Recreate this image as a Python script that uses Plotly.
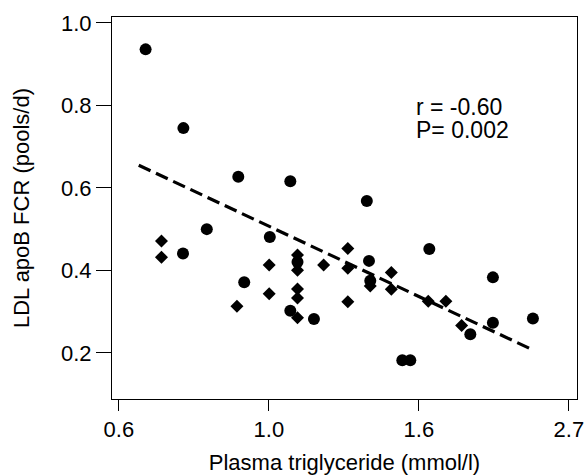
import numpy as np
import plotly.graph_objects as go

# Circles (group 1): plasma TG (mmol/l) vs LDL apoB FCR (pools/d)
circle_tg = [0.663, 0.752, 0.903, 1.074, 0.813, 0.751, 1.003, 0.921, 1.074, 1.162,
             1.386, 1.396, 1.402, 1.707, 1.560, 1.602, 1.957, 2.110, 2.110, 2.411, 1.100]
circle_fcr = [0.936, 0.745, 0.627, 0.616, 0.500, 0.441, 0.481, 0.371, 0.302, 0.282,
              0.568, 0.423, 0.375, 0.452, 0.182, 0.182, 0.245, 0.383, 0.273, 0.283, 0.420]

# Diamonds (group 2)
diamond_tg = [0.699, 0.699, 1.001, 1.001, 0.899, 1.100, 1.100, 1.100, 1.100, 1.100,
              1.200, 1.301, 1.301, 1.301, 1.504, 1.504, 1.402, 1.701, 1.804, 1.901]
diamond_fcr = [0.471, 0.432, 0.413, 0.343, 0.313, 0.437, 0.400, 0.355, 0.333, 0.285,
               0.413, 0.453, 0.405, 0.324, 0.395, 0.354, 0.362, 0.325, 0.325, 0.266]

# Regression line end points
fit_tg = [0.648, 2.411]
fit_fcr = [0.655, 0.207]

# Axis ticks (natural-log spaced)
x_tick_vals = list(np.exp([-0.5, 0.0, 0.5, 1.0]))
x_tick_text = ["0.6", "1.0", "1.6", "2.7"]
y_tick_vals = [0.2, 0.4, 0.6, 0.8, 1.0]
y_tick_text = ["0.2", "0.4", "0.6", "0.8", "1.0"]

FONT = "Liberation Sans, Arial, sans-serif"

fig = go.Figure()
fig.add_trace(go.Scatter(x=fit_tg, y=fit_fcr, mode="lines",
                         line=dict(color="black", width=3.2, dash="13px,6px"),
                         showlegend=False, hoverinfo="skip"))
fig.add_trace(go.Scatter(x=circle_tg, y=circle_fcr, mode="markers",
                         marker=dict(symbol="circle", size=12, color="black",
                                     line=dict(width=0)),
                         showlegend=False))
fig.add_trace(go.Scatter(x=diamond_tg, y=diamond_fcr, mode="markers",
                         marker=dict(symbol="diamond", size=10, color="black",
                                     line=dict(width=0)),
                         showlegend=False))

xr = [np.log10(np.exp(-0.523)), np.log10(np.exp(1.027))]

fig.update_layout(
    width=586, height=475,
    margin=dict(l=112, r=9, t=17, b=76),
    paper_bgcolor="white", plot_bgcolor="white",
    font=dict(family=FONT, size=22, color="black"),
    xaxis=dict(type="log", range=xr, tickvals=x_tick_vals, ticktext=x_tick_text,
               ticks="outside", ticklen=11, tickwidth=1, tickcolor="black",
               showline=True, linecolor="black", linewidth=1, mirror=True,
               showgrid=False, zeroline=False, automargin=False,
               title=dict(text="Plasma triglyceride (mmol/l)", font=dict(size=22)),
               tickfont=dict(size=22)),
    yaxis=dict(range=[0.088, 1.0145], tickvals=y_tick_vals, ticktext=y_tick_text,
               ticks="outside", ticklen=15, tickwidth=1, tickcolor="black",
               showline=True, linecolor="black", linewidth=1, mirror=True,
               showgrid=False, zeroline=False, automargin=True,
               title=dict(text="LDL apoB FCR (pools/d)", standoff=25,
                          font=dict(size=22)),
               tickfont=dict(size=22)),
    annotations=[
        dict(text="r = -0.60", xref="paper", yref="paper", x=0.650, y=0.764,
             xanchor="left", yanchor="middle", showarrow=False,
             font=dict(size=23, family=FONT, color="black")),
        dict(text="P= 0.002", xref="paper", yref="paper", x=0.650, y=0.703,
             xanchor="left", yanchor="middle", showarrow=False,
             font=dict(size=23, family=FONT, color="black")),
    ],
)

fig.write_html("out.html", config={"displayModeBar": False},
               post_script="document.body.style.margin='0';document.body.style.padding='0';")
